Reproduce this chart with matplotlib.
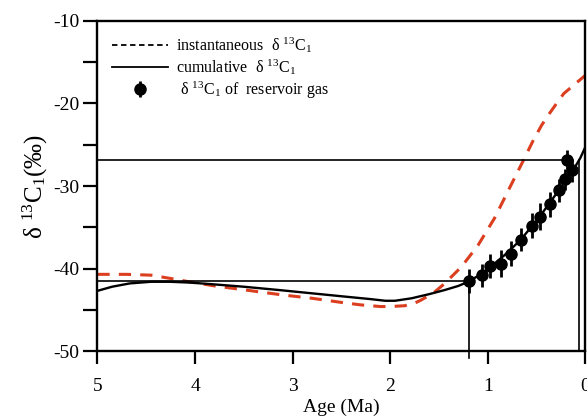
import matplotlib.pyplot as plt
from matplotlib.lines import Line2D

plt.rcParams['font.family'] = ['Liberation Serif', 'DejaVu Serif']
plt.rcParams['mathtext.fontset'] = 'custom'
plt.rcParams['mathtext.rm'] = 'Liberation Serif'
plt.rcParams['mathtext.it'] = 'Liberation Serif:italic'
plt.rcParams['axes.unicode_minus'] = False

# instantaneous d13C1 (red dashed)
inst_age = [5.0, 4.7, 4.45, 4.25, 4.06, 3.8, 3.48, 3.1, 2.80, 2.5, 2.30, 2.1, 2.0, 1.85,
            1.75, 1.68, 1.55, 1.44, 1.27, 1.10, 0.93, 0.77, 0.63, 0.53, 0.45, 0.39,
            0.30, 0.22, 0.1, 0.0]
inst_val = [-40.7, -40.7, -40.8, -41.2, -41.6, -42.1, -42.6, -43.2, -43.6, -44.1, -44.4, -44.6,
            -44.6, -44.5, -44.2, -43.8, -42.9, -41.8, -39.8, -37.2, -33.9, -30.1, -26.8, -24.4,
            -22.7, -21.6, -20.1, -18.8, -17.6, -16.6]

# cumulative d13C1 (black)
cum_age = [5.0, 4.85, 4.67, 4.45, 4.26, 4.05, 3.82, 3.5, 3.14, 2.8, 2.46, 2.2, 2.05, 1.95,
           1.78, 1.6, 1.44, 1.3, 1.2, 1.1, 0.98, 0.82, 0.66, 0.46, 0.27, 0.13, 0.05, 0.0]
cum_val = [-42.7, -42.2, -41.8, -41.6, -41.6, -41.7, -41.9, -42.2, -42.6, -43.0, -43.4, -43.7,
           -43.9, -43.9, -43.6, -43.1, -42.6, -42.1, -41.6, -40.9, -39.9, -38.3, -36.5, -33.6,
           -30.5, -28.2, -26.6, -25.3]

# reservoir gas
gas_age = [1.19, 1.06, 0.98, 0.86, 0.76, 0.66, 0.55, 0.46, 0.36, 0.27, 0.21, 0.14, 0.19]
gas_val = [-41.5, -40.8, -39.7, -39.4, -38.2, -36.5, -34.8, -33.7, -32.2, -30.5, -29.2, -28.1, -26.8]
gas_err = [1.5, 1.4, 1.5, 1.6, 1.5, 1.4, 1.5, 1.6, 1.5, 1.4, 1.3, 1.4, 1.2]

fig = plt.figure(figsize=(5.87, 4.18), dpi=100)
ax = fig.add_axes([0.166, 0.16, 0.831, 0.79])

ax.plot(inst_age, inst_val, color='#dc3f1f', lw=2.2, ls=(0, (4, 3)))
ax.plot(cum_age, cum_val, color='black', lw=1.7)
gas = ax.errorbar(gas_age, gas_val, yerr=gas_err, fmt='o', color='black', ms=8,
                  elinewidth=2, capsize=0)

# reference lines
ax.plot([5, gas_age[-1]], [gas_val[-1], gas_val[-1]], color='black', lw=1.2)
ax.plot([5, gas_age[0]], [gas_val[0], gas_val[0]], color='black', lw=1.2)
ax.plot([gas_age[0], gas_age[0]], [-50.8, gas_val[0]], color='black', lw=1.2, clip_on=False)
ax.plot([0.06, 0.06], [-50, gas_val[-1]], color='black', lw=1.2)

ax.set_xlim(5, 0)
ax.set_ylim(-50, -10)
ax.set_xticks([5, 4, 3, 2, 1, 0])
ax.set_yticks([-50, -40, -30, -20, -10])
ax.set_yticks([-45, -35, -25, -15], minor=True)
ax.tick_params(axis='both', which='both', direction='out', width=1.6, labelsize=14)
ax.tick_params(axis='y', which='both', length=10, pad=3)
ax.tick_params(axis='x', length=9, pad=10)
for s in ax.spines.values():
    s.set_linewidth(1.7)

ax.set_xlabel('Age (Ma)', fontsize=14, labelpad=3)
ax.set_ylabel('δ $^{13}$C$_1$(‰)', fontsize=18, labelpad=2)

handles = [
    Line2D([], [], color='black', ls=(0, (3, 2)), lw=1.3),
    Line2D([], [], color='black', lw=1.3),
    gas,
]
labels = ['instantaneous  δ $^{13}$C$_1$', 'cumulative  δ $^{13}$C$_1$', ' δ $^{13}$C$_1$ of  reservoir gas']
ax.legend(handles, labels, loc='upper left', frameon=False, fontsize=11.5,
          handlelength=3.5, handletextpad=0.5, labelspacing=0.15, borderaxespad=0.5)

fig.savefig('out.png', dpi=100)
